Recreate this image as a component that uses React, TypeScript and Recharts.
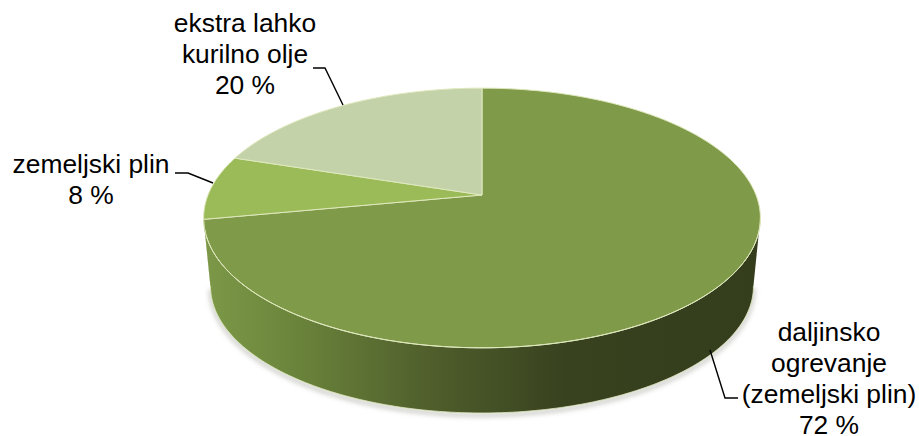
import React from "react";
import { PieChart, Pie } from "recharts";

const names = ["daljinsko ogrevanje (zemeljski plin)", "zemeljski plin", "ekstra lahko kurilno olje"];
const shares = [72, 8, 20];
const percentLabels = ["72 %", "8 %", "20 %"];
const nameLines = [
  ["daljinsko", "ogrevanje", "(zemeljski plin)"],
  ["zemeljski plin"],
  ["ekstra lahko", "kurilno olje"],
];
const sliceColors = ["#7f9a48", "#9bbb59", "#c3d2a9"];

const chartData = names.map((name, i) => ({ name, value: shares[i], fill: sliceColors[i] }));

// Perspective of the disc: how strongly it recedes and how flat it is tilted.
const RECEDE = 0.177;
const FLATTEN = 0.459;
// The underside of the disc sits lower and is slightly smaller.
const DROP = 69;
const UNDERSIDE_SCALE = 0.975;
// Math-degree range of the rim that faces the viewer.
const RIM_FROM = -170;
const RIM_TO = -10;

const RIM_EDGE = "#dfe8bd";
const FONT = "'Liberation Sans', Arial, sans-serif";
const FONT_SIZE = 26.4;
const LINE_GAP = 31;

// Text block placement (centre x, first baseline) and leader polyline per slice.
const labelLayout = [
  { x: 829, y: 341, leader: [[710, 350], [725, 398], [738, 398]] },
  { x: 91, y: 173, leader: [[175, 173], [188, 173], [213, 183]] },
  { x: 245, y: 32, leader: [[313, 68], [325, 68], [343, 105]] },
];

function project(deg: number, r: number, cx: number, cy: number, under = false) {
  const t = (deg * Math.PI) / 180;
  const u = Math.cos(t);
  const v = Math.sin(t);
  const d = 1 + RECEDE * v;
  const s = under ? UNDERSIDE_SCALE : 1;
  return {
    x: cx + (s * r * u) / d,
    y: cy + (under ? DROP : 0) - (s * r * FLATTEN * v) / d,
  };
}

function arcPoints(from: number, to: number, r: number, cx: number, cy: number, under = false) {
  const steps = Math.max(2, Math.ceil(Math.abs(to - from)));
  const pts: string[] = [];
  for (let i = 0; i <= steps; i++) {
    const p = project(from + ((to - from) * i) / steps, r, cx, cy, under);
    pts.push(`${p.x.toFixed(2)} ${p.y.toFixed(2)}`);
  }
  return pts;
}

function DiscSlice(props: any) {
  const { cx, cy, outerRadius: r, startAngle, endAngle, fill } = props;
  const top = arcPoints(startAngle, endAngle, r, cx, cy);
  const face = `M${cx} ${cy}L${top.join("L")}Z`;

  const lo = Math.max(endAngle, RIM_FROM);
  const hi = Math.min(startAngle, RIM_TO);
  const hasRim = lo < hi;
  let wall = "";
  let lower = "";
  let upper = "";
  if (hasRim) {
    const upperPts = arcPoints(hi, lo, r, cx, cy);
    const lowerPts = arcPoints(lo, hi, r, cx, cy, true);
    upper = `M${upperPts.join("L")}`;
    lower = `M${lowerPts.join("L")}`;
    wall = `M${upperPts.join("L")}L${lowerPts.join("L")}Z`;
  }
  return (
    <g>
      {hasRim && (
        <g>
          <defs>
            <linearGradient id="rimShade" gradientUnits="userSpaceOnUse" x1={cx - r} x2={cx + r} y1="0" y2="0">
              <stop offset="0" stopColor="#7b9747" />
              <stop offset="0.12" stopColor="#6f8a3e" />
              <stop offset="0.4" stopColor="#505f2c" />
              <stop offset="0.65" stopColor="#38421f" />
              <stop offset="1" stopColor="#343d1c" />
            </linearGradient>
            <filter id="rimShadow" x="-5%" y="-20%" width="110%" height="140%">
              <feGaussianBlur stdDeviation="2.5" />
            </filter>
          </defs>
          <path d={lower} fill="none" stroke="#8a8a80" strokeWidth={3} strokeOpacity={0.6} transform="translate(0 2)" filter="url(#rimShadow)" />
          <path d={wall} fill="url(#rimShade)" />
          <path d={lower} fill="none" stroke={RIM_EDGE} strokeWidth={1} strokeOpacity={0.8} />
        </g>
      )}
      <path d={face} fill={fill} stroke={RIM_EDGE} strokeWidth={1} strokeLinejoin="round" />
      {hasRim && <path d={upper} fill="none" stroke={RIM_EDGE} strokeWidth={1} />}
    </g>
  );
}

function SliceLabel(props: any) {
  const { index } = props;
  const spot = labelLayout[index];
  const lines = [...nameLines[index], percentLabels[index]];
  return (
    <g>
      <polyline
        points={spot.leader.map((p) => p.join(",")).join(" ")}
        fill="none"
        stroke="#000000"
        strokeWidth={1.4}
      />
      <text x={spot.x} y={spot.y} textAnchor="middle" fontFamily={FONT} fontSize={FONT_SIZE} fill="#000000">
        {lines.map((line, i) => (
          <tspan key={line} x={spot.x} y={spot.y + i * LINE_GAP}>
            {line}
          </tspan>
        ))}
      </text>
    </g>
  );
}

export default function App() {
  return (
    <div style={{ position: "absolute", left: 0, top: 0, width: 919, height: 436, background: "#ffffff", overflow: "hidden" }}>
      <PieChart width={919} height={436} margin={{ top: 0, right: 0, bottom: 0, left: 0 }}>
        <Pie
          data={chartData}
          dataKey="value"
          nameKey="name"
          cx={482}
          cy={195}
          outerRadius={274}
          startAngle={90}
          endAngle={-270}
          isAnimationActive={false}
          shape={DiscSlice}
          label={SliceLabel}
          labelLine={false}
        />
      </PieChart>
    </div>
  );
}
